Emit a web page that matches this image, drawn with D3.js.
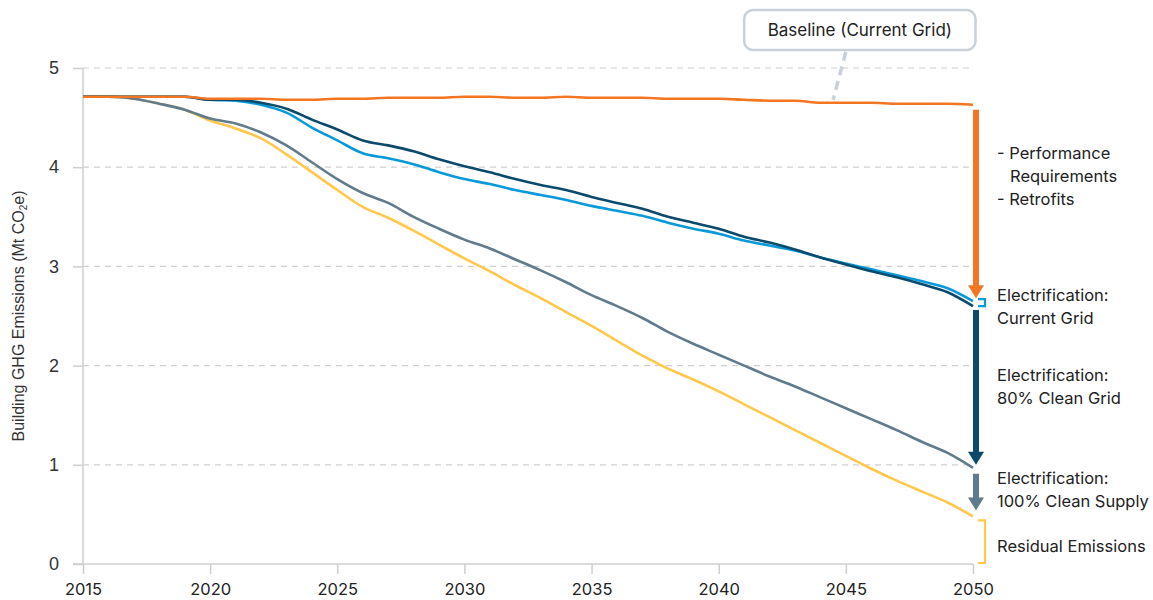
<!DOCTYPE html>
<html>
<head>
<meta charset="utf-8">
<script src="https://cdn.jsdelivr.net/npm/d3@7"></script>
<style>
  body { margin: 0; background: #fff; }
  svg text { fill: #222; }
</style>
</head>
<body>
<svg width="1153" height="600"></svg>
<script>
// years on the x axis
var years = d3.range(2015, 2051);

// Building GHG emissions, Mt CO2e
var baseline = [4.71, 4.71, 4.71, 4.71, 4.71, 4.69, 4.69, 4.69, 4.68, 4.68,
    4.69, 4.69, 4.70, 4.70, 4.70, 4.71, 4.71, 4.70, 4.70, 4.71,
    4.70, 4.70, 4.70, 4.69, 4.69, 4.69, 4.68, 4.67, 4.67, 4.65,
    4.65, 4.65, 4.64, 4.64, 4.64, 4.63];
var performance = [4.71, 4.71, 4.71, 4.71, 4.71, 4.68, 4.68, 4.65, 4.59, 4.48,
    4.38, 4.27, 4.22, 4.16, 4.08, 4.01, 3.95, 3.88, 3.82, 3.77,
    3.70, 3.64, 3.58, 3.50, 3.44, 3.38, 3.30, 3.24, 3.17, 3.09,
    3.02, 2.95, 2.89, 2.82, 2.74, 2.60];
var currentGrid = [4.71, 4.71, 4.71, 4.71, 4.71, 4.68, 4.67, 4.63, 4.55, 4.40,
    4.27, 4.14, 4.09, 4.03, 3.95, 3.88, 3.83, 3.77, 3.72, 3.67,
    3.61, 3.56, 3.51, 3.44, 3.38, 3.33, 3.26, 3.21, 3.16, 3.09,
    3.03, 2.97, 2.91, 2.85, 2.78, 2.65];
var cleanGrid80 = [4.71, 4.71, 4.69, 4.64, 4.58, 4.49, 4.44, 4.35, 4.22, 4.05,
    3.88, 3.74, 3.64, 3.50, 3.38, 3.27, 3.18, 3.07, 2.96, 2.84,
    2.71, 2.60, 2.48, 2.34, 2.22, 2.11, 2.00, 1.89, 1.79, 1.68,
    1.57, 1.46, 1.35, 1.23, 1.12, 0.97];
var cleanSupply100 = [4.71, 4.71, 4.69, 4.64, 4.58, 4.47, 4.39, 4.29, 4.13, 3.95,
    3.77, 3.60, 3.49, 3.36, 3.22, 3.08, 2.95, 2.81, 2.68, 2.54,
    2.40, 2.25, 2.10, 1.97, 1.86, 1.74, 1.61, 1.48, 1.35, 1.22,
    1.09, 0.96, 0.84, 0.73, 0.62, 0.48];

var xTicks = [2015, 2020, 2025, 2030, 2035, 2040, 2045, 2050];
var yTicks = [0, 1, 2, 3, 4, 5];

var svg = d3.select("svg"),
    margin = { top: 68, left: 83, right: 180, bottom: 36 },
    width = +svg.attr("width") - margin.left - margin.right,
    height = +svg.attr("height") - margin.top - margin.bottom,
    g = svg.append("g").attr("transform", "translate(" + margin.left + "," + margin.top + ")");

var x = d3.scaleLinear().domain([2015, 2050]).range([0, width]);
var y = d3.scaleLinear().domain([0, 5]).range([height, 0]);

var axisFont = "Inter, 'Noto Sans', sans-serif";
var labelFont = "'Liberation Sans', Arial, sans-serif";

// dashed gridlines
g.append("g")
    .selectAll("line")
    .data(yTicks.filter(function (d) { return d > 0; }))
    .enter().append("line")
    .attr("x1", 0)
    .attr("x2", width)
    .attr("y1", function (d) { return y(d); })
    .attr("y2", function (d) { return y(d); })
    .attr("stroke", "#cfcfcf")
    .attr("stroke-width", 1.2)
    .attr("stroke-dasharray", "6,5");

// y axis
var yAxis = g.append("g")
    .call(d3.axisLeft(y).tickValues(yTicks).tickFormat(d3.format("d")).tickSize(10).tickPadding(14));
yAxis.select(".domain").remove();
yAxis.selectAll("line").attr("stroke", "#cfcfcf").attr("stroke-width", 1.5);
yAxis.selectAll("text")
    .attr("font-family", labelFont)
    .attr("font-size", 18)
    .style("fill", "#333");
g.append("line")
    .attr("x1", 0).attr("x2", 0)
    .attr("y1", 0).attr("y2", height)
    .attr("stroke", "#cfcfcf")
    .attr("stroke-width", 1.5);

// x axis
var xAxis = g.append("g")
    .attr("transform", "translate(0," + height + ")")
    .call(d3.axisBottom(x).tickValues(xTicks).tickFormat(d3.format("d")).tickSize(10).tickPadding(9));
xAxis.select(".domain").remove();
xAxis.selectAll("line").attr("stroke", "#cfcfcf").attr("stroke-width", 1.5);
xAxis.selectAll("text")
    .attr("font-family", axisFont)
    .attr("font-size", 16.5)
    .style("fill", "#222");
g.append("line")
    .attr("x1", -10).attr("x2", width)
    .attr("y1", height).attr("y2", height)
    .attr("stroke", "#cfcfcf")
    .attr("stroke-width", 1.5);

// y title
svg.append("text")
    .attr("transform", "translate(24," + (margin.top + height / 2) + ") rotate(-90)")
    .attr("text-anchor", "middle")
    .attr("font-family", labelFont)
    .attr("font-size", 16)
    .style("fill", "#333")
    .call(function (t) {
        t.append("tspan").text("Building GHG Emissions (Mt CO");
        t.append("tspan").attr("font-size", 10).attr("dy", 3).text("2");
        t.append("tspan").attr("dy", -3).text("e)");
    });

// lines
var series = [
    { name: "cleanSupply100", values: cleanSupply100, color: "#ffc84a" },
    { name: "cleanGrid80", values: cleanGrid80, color: "#5f7b8c" },
    { name: "currentGrid", values: currentGrid, color: "#0a99d8" },
    { name: "performance", values: performance, color: "#0b4a6c" },
    { name: "baseline", values: baseline, color: "#f47622" }
];

var line = d3.line()
    .x(function (d, i) { return x(years[i]); })
    .y(function (d) { return y(d); })
    .curve(d3.curveMonotoneX);

g.selectAll(".series")
    .data(series)
    .enter().append("path")
    .attr("class", "series")
    .attr("fill", "none")
    .attr("stroke", function (d) { return d.color; })
    .attr("stroke-width", 2.6)
    .attr("stroke-linejoin", "round")
    .attr("d", function (d) { return line(d.values); });

// callout for baseline
var by = 10 - margin.top;
g.append("line")
    .attr("x1", x(2045)).attr("y1", 52 - margin.top)
    .attr("x2", x(2044.5)).attr("y2", y(4.66) - 2)
    .attr("stroke", "#c9d1d8")
    .attr("stroke-width", 3.5)
    .attr("stroke-dasharray", "9,6");
g.append("rect")
    .attr("x", x(2041)).attr("y", by)
    .attr("width", x(2050.1) - x(2041)).attr("height", 40)
    .attr("rx", 9)
    .attr("fill", "#fff")
    .attr("stroke", "#c9d1d8")
    .attr("stroke-width", 2.5);
g.append("text")
    .attr("x", (x(2041) + x(2050.1)) / 2).attr("y", by + 26)
    .attr("text-anchor", "middle")
    .attr("font-family", axisFont)
    .attr("font-size", 17)
    .text("Baseline (Current Grid)");

// reduction arrows at 2050
var ax = x(2050) + 3;
var last = function (arr) { return arr[arr.length - 1]; };

function arrow(v0, v1, color) {
    var y0 = y(v0), y1 = y(v1);
    g.append("line")
        .attr("x1", ax).attr("x2", ax)
        .attr("y1", y0).attr("y2", y1 - 12)
        .attr("stroke", color)
        .attr("stroke-width", 6);
    g.append("path")
        .attr("d", "M" + (ax - 8) + "," + (y1 - 13) + "L" + (ax + 8) + "," + (y1 - 13) + "L" + ax + "," + y1 + "Z")
        .attr("fill", color);
}

function bracket(v0, v1, color) {
    var y0 = y(v0), y1 = y(v1);
    g.append("path")
        .attr("d", "M" + (ax + 2) + "," + y0 + "H" + (ax + 9) + "V" + y1 + "H" + (ax + 2))
        .attr("fill", "none")
        .attr("stroke", color)
        .attr("stroke-width", 2.2);
}

arrow(last(baseline) - 0.05, last(currentGrid) + 0.03, "#f47622");
bracket(last(currentGrid) + 0.02, last(currentGrid) - 0.05, "#0a99d8");
arrow(last(performance) - 0.04, last(cleanGrid80) + 0.03, "#0b4a6c");
arrow(last(cleanGrid80) - 0.06, last(cleanSupply100) + 0.06, "#5f7b8c");
bracket(last(cleanSupply100) - 0.04, 0.01, "#ffc84a");

// labels next to arrows
var labels = [
    { v: 4.08, lines: ["- Performance", "  Requirements", "- Retrofits"] },
    { v: 2.65, lines: ["Electrification:", "Current Grid"] },
    { v: 1.84, lines: ["Electrification:", "80% Clean Grid"] },
    { v: 0.81, lines: ["Electrification:", "100% Clean Supply"] },
    { v: 0.12, lines: ["Residual Emissions"] }
];

var lx = x(2050) + 24;
labels.forEach(function (d) {
    var t = g.append("text")
        .attr("font-family", axisFont)
        .attr("font-size", 16.5)
        .attr("y", y(d.v));
    d.lines.forEach(function (s, i) {
        var indent = s.indexOf("  ") === 0;
        t.append("tspan")
            .attr("x", indent ? lx + 13 : lx)
            .attr("dy", i === 0 ? 0 : 23)
            .text(s.trim());
    });
});
</script>
</body>
</html>
